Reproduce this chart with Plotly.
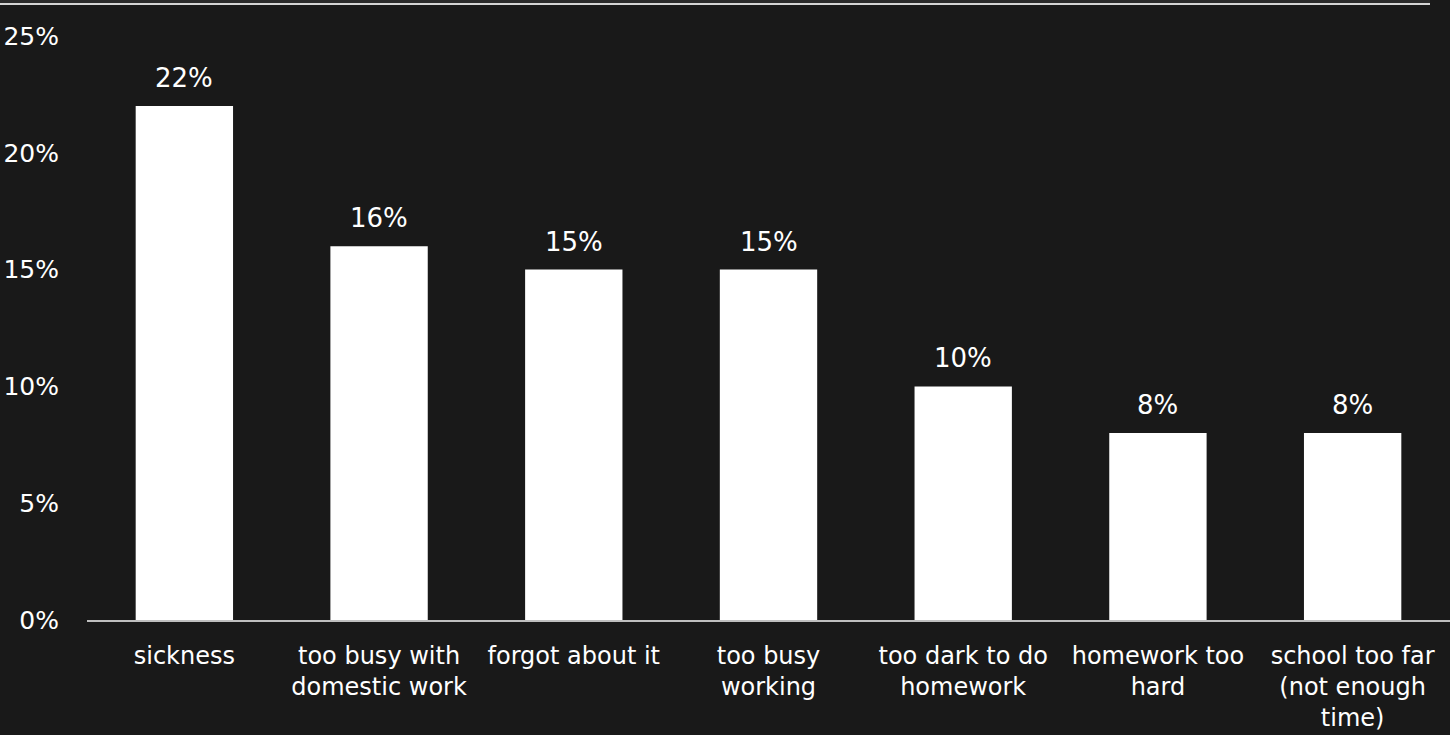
import plotly.graph_objects as go

categories = [
    "sickness",
    "too busy with<br>domestic work",
    "forgot about it",
    "too busy<br>working",
    "too dark to do<br>homework",
    "homework too<br>hard",
    "school too far<br>(not enough<br>time)",
]
values = [22, 16, 15, 15, 10, 8, 8]
value_labels = ["22%", "16%", "15%", "15%", "10%", "8%", "8%"]
y_ticks = [0, 5, 10, 15, 20, 25]
y_tick_labels = ["0%", "5%", "10%", "15%", "20%", "25%"]

FONT = "Century Gothic, URW Gothic, DejaVu Sans, sans-serif"
BG = "#191919"

W, H = 1450, 735
ML, MR, MT, MB = 87, 0, 36, 115
PW, PH = W - ML - MR, H - MT - MB

fig = go.Figure()
fig.add_trace(go.Bar(
    x=categories, y=values,
    marker=dict(color="#ffffff", line=dict(width=0)),
    hoverinfo="skip",
))

for c, v, t in zip(categories, values, value_labels):
    fig.add_annotation(
        x=c, y=v, text=t, showarrow=False,
        xref="x", yref="y", yanchor="bottom", yshift=11,
        font=dict(family=FONT, size=26, color="#ffffff"),
    )

# top decorative rule
fig.add_shape(type="rect", xref="paper", yref="paper",
              x0=-ML / PW, x1=(1430 - ML) / PW,
              y0=1 + (MT - 3) / PH, y1=1 + MT / PH,
              line=dict(width=0), fillcolor="#2a2a2a", layer="above")
fig.add_shape(type="line", xref="paper", yref="paper",
              x0=-ML / PW, x1=(1430 - ML) / PW,
              y0=1 + (MT - 4) / PH, y1=1 + (MT - 4) / PH,
              line=dict(color="#d4d4d4", width=2), layer="above")

fig.update_layout(
    width=W, height=H,
    paper_bgcolor=BG, plot_bgcolor=BG,
    margin=dict(l=ML, r=MR, t=MT, b=MB),
    bargap=0.5,
    showlegend=False,
    font=dict(family=FONT, size=24, color="#ffffff"),
    xaxis=dict(
        showgrid=False, zeroline=False,
        showline=True, linecolor="#bfbfbf", linewidth=2,
        ticks="", tickfont=dict(family=FONT, size=24, color="#ffffff"),
        ticklabelstandoff=13,
        fixedrange=True,
    ),
    yaxis=dict(
        range=[0, 25], showgrid=False, zeroline=False, showline=False,
        tickmode="array", tickvals=y_ticks, ticktext=y_tick_labels,
        ticks="", tickfont=dict(family=FONT, size=25, color="#ffffff"),
        ticklabelstandoff=27,
        fixedrange=True,
    ),
)

fig.write_html(
    "out.html",
    config={"displayModeBar": False},
    post_script="document.body.style.margin='0';document.body.style.background='#191919';",
)
